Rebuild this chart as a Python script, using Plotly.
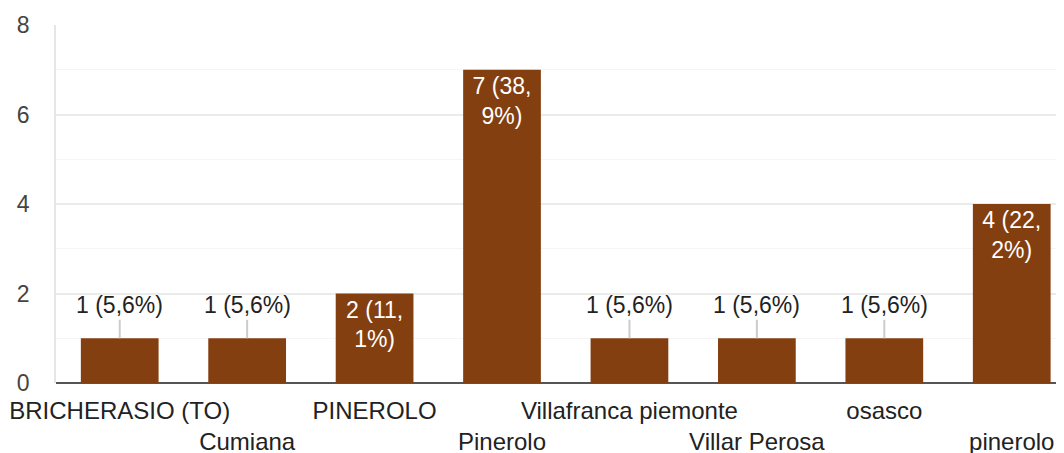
import plotly.graph_objects as go

categories = ["BRICHERASIO (TO)", "Cumiana", "PINEROLO", "Pinerolo",
              "Villafranca piemonte", "Villar Perosa", "osasco", "pinerolo"]
counts = [1, 1, 2, 7, 1, 1, 1, 4]
y_ticks = [0, 2, 4, 6, 8]

total = sum(counts)
FONT = "Liberation Sans, Arial, sans-serif"
BAR = "#843f10"
FS = 23

def pct_text(c):
    return f"{c / total * 100:.1f}".replace(".", ",") + "%"

xs = list(range(len(categories)))
inside_text = []
for c in counts:
    if c >= 2:
        p = pct_text(c)
        whole, dec = p.split(",")
        inside_text.append(f"{c} ({whole},<br>{dec})")
    else:
        inside_text.append("")

ticktext = [cat if i % 2 == 0 else "<br>" + cat for i, cat in enumerate(categories)]

fig = go.Figure(go.Bar(
    x=xs, y=counts, width=0.61,
    marker=dict(color=BAR, line=dict(width=0)),
    text=inside_text, textposition="inside", insidetextanchor="end",
    textangle=0, textfont=dict(color="white", size=FS, family=FONT),
    cliponaxis=False, hoverinfo="skip",
))

for x, c in zip(xs, counts):
    if c < 2:
        fig.add_annotation(
            x=x, y=c, text=f"{c} ({pct_text(c)})", showarrow=True,
            arrowhead=0, arrowwidth=2, arrowcolor="#cccccc", ax=0, ay=-33,
            standoff=0, startstandoff=0,
            font=dict(size=FS, color="#222222", family=FONT),
        )

# page body has an 8px default margin; size the figure so the plot lands
# where the reference has it in the 1064x453 window
fig.update_layout(
    width=1056, height=452,
    margin=dict(l=48, r=0, t=17, b=77),
    paper_bgcolor="white", plot_bgcolor="white",
    showlegend=False,
    font=dict(family=FONT, size=FS, color="#222222"),
    uniformtext=dict(minsize=10, mode="show"),
)
fig.update_xaxes(
    range=[-0.5, 7.41], tickvals=xs, ticktext=ticktext,
    showgrid=False, zeroline=False, showline=False,
    tickfont=dict(size=24, color="#222222", family=FONT),
    ticks="", ticklabelstandoff=11, tickangle=0, automargin=False,
)
fig.update_yaxes(
    range=[0, 8], tickvals=y_ticks,
    showgrid=True, gridcolor="#ebebeb", gridwidth=1.5,
    minor=dict(dtick=1, showgrid=True, gridcolor="#f5f5f5", gridwidth=1),
    zeroline=True, zerolinecolor="#555555", zerolinewidth=2,
    showline=True, linecolor="#e6e6e6", linewidth=1.5, mirror=False,
    tickfont=dict(size=FS, color="#444444", family=FONT),
    ticks="", ticklabelstandoff=20, automargin=False,
)

fig.write_html("out.html")
